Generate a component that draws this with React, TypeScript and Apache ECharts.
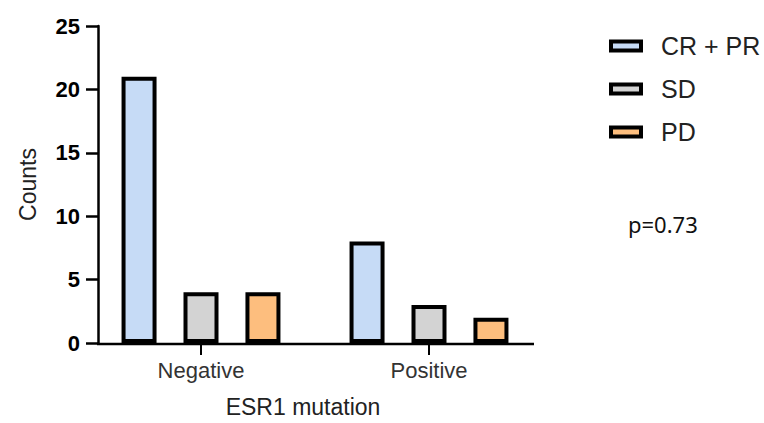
import React, { useEffect, useRef } from "react";
import * as echarts from "echarts";

const categories = ["Negative", "Positive"];
const seriesNames = ["CR + PR", "SD", "PD"];
const crPr = [21, 8];
const sd = [4, 3];
const pd = [4, 2];
const colors = ["#c6dbf6", "#d3d3d3", "#fdbe7e"];
const yTicks = { min: 0, max: 25, interval: 5 };
const pText = "p=0.73";

const FONT = "'Liberation Sans', Arial, sans-serif";

export default function App() {
  const ref = useRef<HTMLDivElement>(null);
  useEffect(() => {
    if (!ref.current) return;
    const chart = echarts.init(ref.current, null, { renderer: "svg" });
    const values = [crPr, sd, pd];
    chart.setOption({
      animation: false,
      backgroundColor: "#ffffff",
      textStyle: { fontFamily: FONT },
      grid: { left: 87, right: 221, top: 26, bottom: 79, containLabel: false },
      legend: {
        orient: "vertical",
        left: 604,
        top: 28,
        itemWidth: 30,
        itemHeight: 9,
        itemGap: 17,
        icon: "rect",
        itemStyle: { borderColor: "#000", borderWidth: 4 },
        textStyle: {
          fontSize: 25,
          color: "#222",
          fontFamily: FONT,
          lineHeight: 26,
          padding: [0, 0, 0, 15],
        },
        data: seriesNames,
      },
      xAxis: {
        type: "category",
        data: categories,
        axisLine: { show: false },
        axisTick: {
          show: true,
          alignWithLabel: true,
          length: 12,
          lineStyle: { color: "#000", width: 2 },
        },
        axisLabel: { fontSize: 22, color: "#333", margin: 16, fontFamily: FONT },
        name: "ESR1 mutation",
        nameLocation: "middle",
        nameGap: 52,
        nameTextStyle: {
          fontSize: 23,
          color: "#222",
          fontFamily: FONT,
          padding: [0, 24, 0, 0],
        },
      },
      yAxis: {
        type: "value",
        min: yTicks.min,
        max: yTicks.max,
        interval: yTicks.interval,
        offset: -11,
        splitLine: { show: false },
        axisLine: { show: true, lineStyle: { color: "#000", width: 2.5 } },
        axisTick: { show: true, length: 12, lineStyle: { color: "#000", width: 2.5 } },
        axisLabel: {
          fontSize: 22,
          fontWeight: "bold",
          color: "#000",
          margin: 18,
          fontFamily: FONT,
        },
        name: "Counts",
        nameLocation: "middle",
        nameRotate: 90,
        nameGap: 59,
        nameTextStyle: { fontSize: 23, color: "#222", fontFamily: FONT },
      },
      series: seriesNames.map((name, i) => ({
        name,
        type: "bar",
        data: values[i],
        barWidth: 35,
        barGap: "77%",
        itemStyle: { color: colors[i], borderColor: "#000", borderWidth: 4 },
      })),
      graphic: [
        {
          type: "line",
          shape: { x1: 97, y1: 344, x2: 534, y2: 344 },
          style: { stroke: "#000", lineWidth: 2.5 },
          z: 10,
        },
        {
          type: "text",
          left: 628,
          top: 213,
          style: { text: pText, fontSize: 22, fill: "#111", fontFamily: "'Noto Sans', sans-serif" },
        },
      ],
    });
    return () => chart.dispose();
  }, []);
  return (
    <div
      ref={ref}
      style={{ position: "fixed", left: 0, top: 0, width: 764, height: 423 }}
    />
  );
}
